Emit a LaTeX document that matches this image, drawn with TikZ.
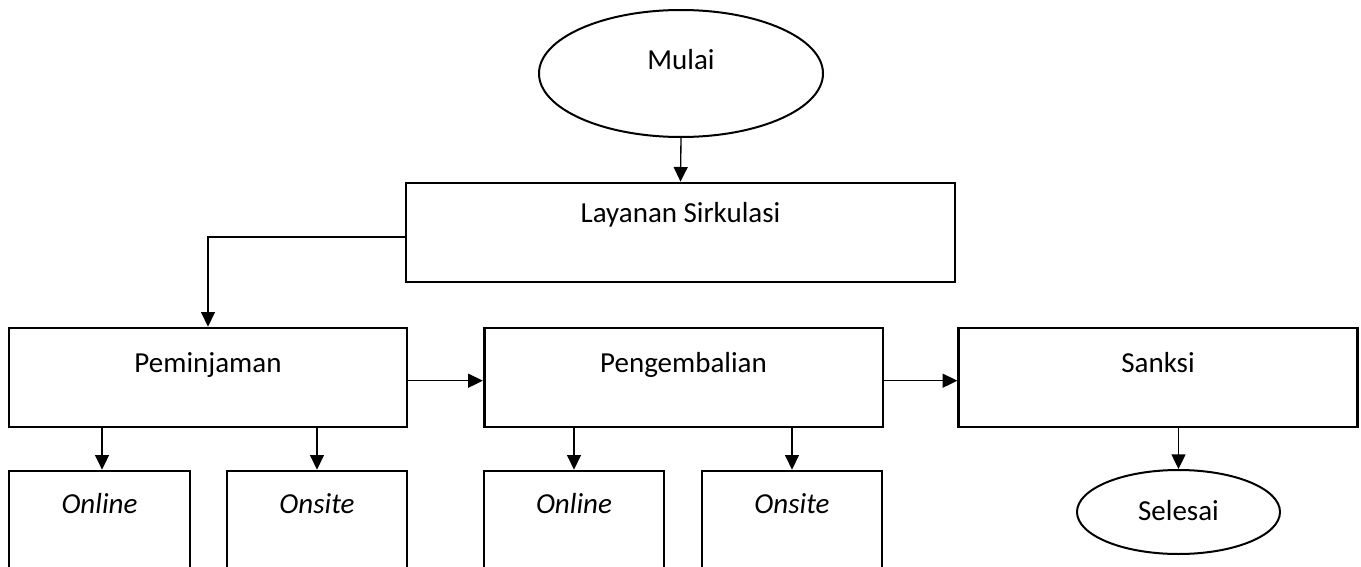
\documentclass[tikz,border=0pt]{standalone}
\usepackage{fontspec}
\setmainfont{Carlito}
\usetikzlibrary{arrows.meta,shapes.geometric}

\begin{document}
\begin{tikzpicture}[x=0.75pt,y=-0.75pt,
  every node/.style={font=\fontsize{21.75}{26}\selectfont},
  box/.style={draw=black,line width=2pt,rectangle,inner sep=0pt,
    minimum height=0pt},
  upper/.style={box,minimum width=299pt,text height=33pt,text depth=41.25pt},
  lower/.style={box,minimum width=135pt,text height=31.5pt,text depth=42.75pt,
    font=\fontsize{21.75}{26}\selectfont\itshape},
  terminal/.style={draw=black,line width=1.5pt,ellipse,inner sep=0pt},
  arr/.style={line width=1pt,-{Triangle[length=11pt,width=10.5pt]}}
]
% page frame
\useasboundingbox (0,0) rectangle (1361,567);

% start and main service
\node[terminal,minimum width=213pt,minimum height=95.25pt,
      text height=7.5pt,text depth=12.75pt] (mulai) at (681,73.5) {Mulai};
\node[box,minimum width=411.75pt,text height=29.25pt,text depth=45pt]
      (layanan) at (680.5,232.5) {Layanan Sirkulasi};

% service stages
\node[upper,minimum width=298.5pt] (pinjam) at (208,377.5) {Peminjaman};
\node[upper] (kembali) at (683.5,377.5) {Pengembalian};
\node[upper] (sanksi) at (1158,377.5) {Sanksi};

% channels of each stage
\node[lower,minimum width=135.75pt] (online1) at (99.5,520.5) {Online};
\node[lower] (onsite1) at (317,520.5) {Onsite};
\node[lower] (online2) at (574,520.5) {Online};
\node[lower] (onsite2) at (792,520.5) {Onsite};

% end
\node[terminal,minimum width=152.25pt,minimum height=63pt,
      text height=13pt,text depth=0pt] (selesai) at (1178.5,512) {Selesai};

% connectors
\draw[arr] (mulai.south) -- (layanan.north);
\draw[arr] ([yshift=-3.4pt]layanan.west) -| (pinjam.north);
\draw[arr] ([yshift=-2.4pt]pinjam.east) -- ([yshift=-2.4pt]kembali.west);
\draw[arr] ([yshift=-2.4pt]kembali.east) -- ([yshift=-2.4pt]sanksi.west);
\draw[arr] ([xshift=1.9pt]online1.north |- pinjam.south) -- ([xshift=1.9pt]online1.north);
\draw[arr] (onsite1.north |- pinjam.south) -- (onsite1.north);
\draw[arr] (online2.north |- kembali.south) -- (online2.north);
\draw[arr] (onsite2.north |- kembali.south) -- (onsite2.north);
\draw[arr] (selesai.north |- sanksi.south) -- (selesai.north);
\end{tikzpicture}
\end{document}
